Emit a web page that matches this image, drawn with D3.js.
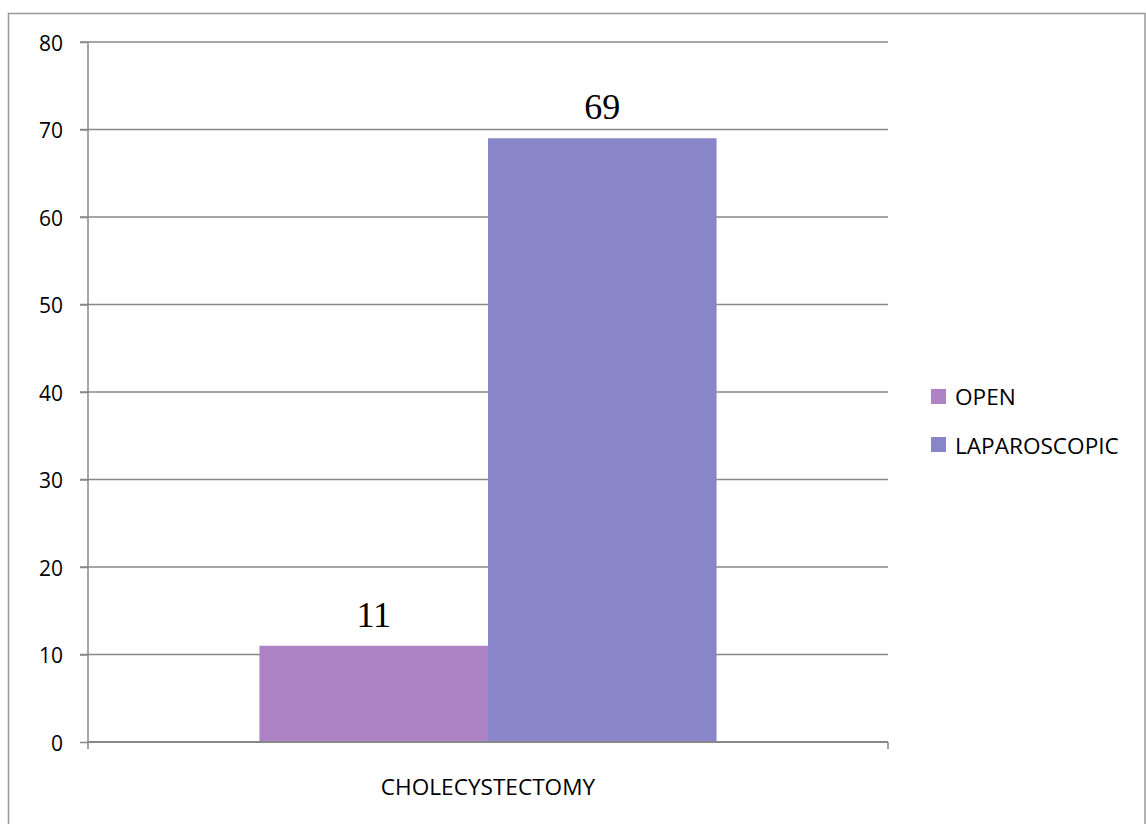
<!DOCTYPE html>
<html><head><meta charset="utf-8">
<script src="https://cdn.jsdelivr.net/npm/d3@7"></script>
<style>html,body{margin:0;padding:0;background:#fff;}svg{display:block;}</style>
</head><body>
<script>
const categories = ["CHOLECYSTECTOMY"];
const seriesNames = ["OPEN", "LAPAROSCOPIC"];
const openValues = [11];
const laparoscopicValues = [69];
const yTicks = [0, 10, 20, 30, 40, 50, 60, 70, 80];
const colors = ["#ad83c5", "#8886c8"];

const W = 1146, H = 824;
const svg = d3.select("body").append("svg").attr("width", W).attr("height", H);
const font = "'Open Sans', 'Noto Sans', sans-serif";

// outer border
svg.append("rect").attr("x", 8.5).attr("y", 13.5).attr("width", 1136.5).attr("height", 830)
  .attr("fill", "none").attr("stroke", "#999").attr("stroke-width", 1.5);

const plot = {left: 88, right: 888, top: 42, bottom: 742};
const y = d3.scaleLinear().domain([0, 80]).range([plot.bottom, plot.top]);
const x0 = d3.scaleBand().domain(categories).range([plot.left, plot.right]).paddingInner(0).paddingOuter(0);
// gap width 150% → each bar = band / 3.5
const x1 = d3.scaleBand().domain(seriesNames).range([0, x0.bandwidth()]).paddingOuter(0.75).paddingInner(0);

const g = svg.append("g");

// gridlines
g.selectAll("line.grid").data(yTicks.filter(d => d > 0)).join("line")
  .attr("x1", plot.left - 8).attr("x2", plot.right)
  .attr("y1", d => y(d)).attr("y2", d => y(d))
  .attr("stroke", "#888").attr("stroke-width", 1.5);

// bars
const data = categories.map((c, i) => ({cat: c, vals: [openValues[i], laparoscopicValues[i]]}));
data.forEach(d => {
  d.vals.forEach((v, j) => {
    const bx = x0(d.cat) + x1(seriesNames[j]);
    g.append("rect").attr("x", bx).attr("y", y(v)).attr("width", x1.bandwidth())
      .attr("height", y(0) - y(v)).attr("fill", colors[j]);
    g.append("text").attr("x", bx + x1.bandwidth() / 2).attr("y", y(v) - 19)
      .attr("text-anchor", "middle").attr("font-family", "'Liberation Serif', 'Times New Roman', serif")
      .attr("font-size", 36).attr("fill", "#000").text(v);
  });
});

// y axis
const yAxis = d3.axisLeft(y).tickValues(yTicks).tickSize(8).tickSizeOuter(0).tickPadding(17);
const ya = svg.append("g").attr("transform", `translate(${plot.left},0)`).call(yAxis);
ya.select(".domain").remove();
ya.selectAll(".tick line").attr("stroke", "#888").attr("stroke-width", 1.5);
ya.selectAll(".tick text").attr("font-family", font).attr("font-size", 21).attr("fill", "#000").attr("dy", "0.4em");
svg.append("line").attr("x1", plot.left).attr("x2", plot.left).attr("y1", plot.top).attr("y2", plot.bottom + 7)
  .attr("stroke", "#888").attr("stroke-width", 1.5);

// x axis
svg.append("line").attr("x1", plot.left).attr("x2", plot.right).attr("y1", plot.bottom).attr("y2", plot.bottom)
  .attr("stroke", "#888").attr("stroke-width", 2);
svg.append("line").attr("x1", plot.right).attr("x2", plot.right).attr("y1", plot.bottom).attr("y2", plot.bottom + 7)
  .attr("stroke", "#888").attr("stroke-width", 1.5);
svg.selectAll("text.xlab").data(categories).join("text")
  .attr("x", d => x0(d) + x0.bandwidth() / 2).attr("y", 795)
  .attr("text-anchor", "middle").attr("font-family", font).attr("font-size", 22.6).attr("fill", "#000")
  .text(d => d);

// legend
const lg = svg.append("g");
seriesNames.forEach((s, i) => {
  lg.append("rect").attr("x", 931).attr("y", 389 + i * 48).attr("width", 15).attr("height", 15).attr("fill", colors[i]);
  lg.append("text").attr("x", 955).attr("y", 405 + i * 49).attr("font-family", font).attr("font-size", 22.6)
    .attr("fill", "#000").text(s);
});
</script>
</body></html>
